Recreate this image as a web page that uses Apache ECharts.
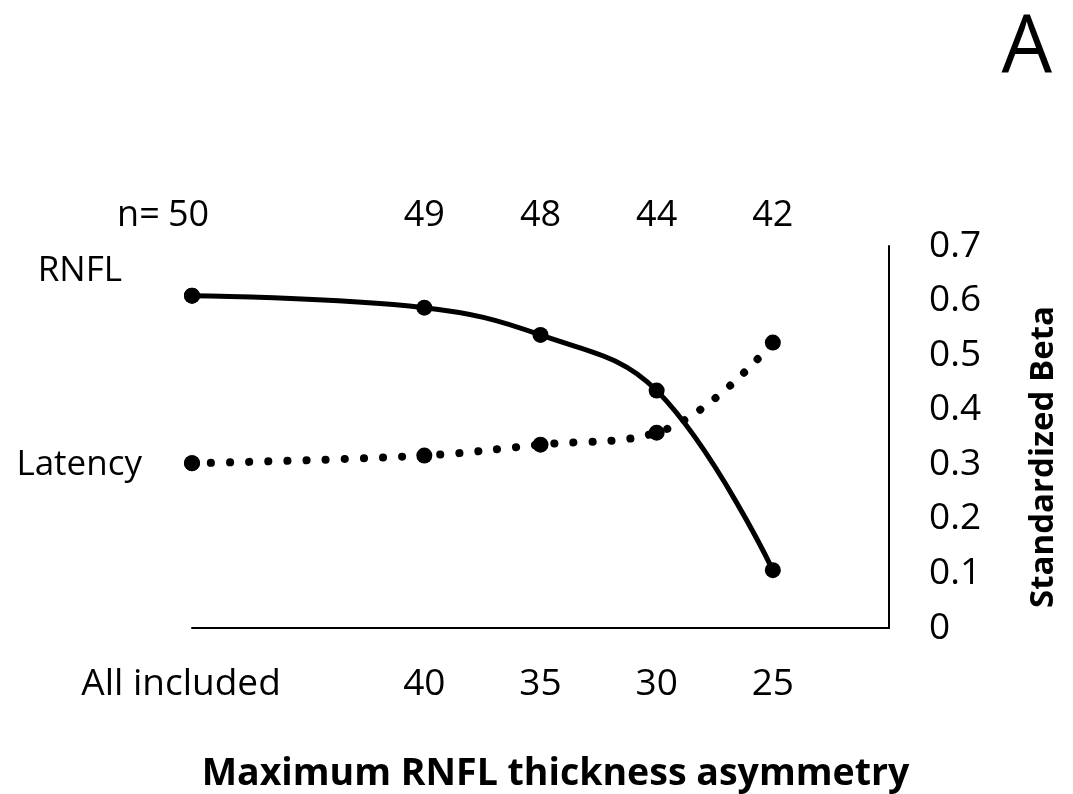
<!DOCTYPE html>
<html>
<head>
<meta charset="utf-8">
<script src="https://cdn.jsdelivr.net/npm/echarts@6/dist/echarts.min.js"></script>
<style>html,body{margin:0;padding:0;background:#fff}#c{width:1073px;height:794px}</style>
</head>
<body>
<div id="c"></div>
<script>
const xValues = [50, 40, 35, 30, 25];
const xLabels = ['All included', '40', '35', '30', '25'];
const nLabels = ['50', '49', '48', '44', '42'];
const rnfl = [0.609, 0.587, 0.537, 0.435, 0.106];
const latency = [0.302, 0.316, 0.336, 0.358, 0.523];
const seriesNames = ['RNFL', 'Latency'];
const xTitle = 'Maximum RNFL thickness asymmetry';
const yTitle = 'Standardized Beta';
const panelLabel = 'A';

const FONT = '"Open Sans", sans-serif';
const chart = echarts.init(document.getElementById('c'));

function xFmt(v) {
  const i = xValues.indexOf(v);
  if (i < 0) return '';
  return i === 0 ? '{a|' + xLabels[i] + '}' : xLabels[i];
}
function nFmt(v) {
  const i = xValues.indexOf(v);
  if (i < 0) return '';
  return i === 0 ? '{p|n=}{g|}{v|' + nLabels[i] + '}{t|}' : nLabels[i];
}

const labelStyle = { fontFamily: FONT, fontSize: 35, color: '#000' };

const option = {
  backgroundColor: '#fff',
  animation: false,
  title: {
    text: panelLabel, right: 16, top: 4,
    textStyle: { fontFamily: FONT, fontSize: 80, fontWeight: 'normal', color: '#000' }
  },
  grid: { left: 192, right: 184, top: 246, bottom: 166 },
  xAxis: [{
    type: 'value', min: 20, max: 50, interval: 5, inverse: true,
    axisLine: { show: true, lineStyle: { color: '#000', width: 2 } },
    axisTick: { show: false }, splitLine: { show: false },
    axisLabel: {
      formatter: xFmt, margin: 38, showMinLabel: true, showMaxLabel: true,
      fontFamily: FONT, fontSize: 37, color: '#000',
      rich: { a: { fontFamily: FONT, fontSize: 37, color: '#000', padding: [0, 22, 0, 0] } }
    },
    name: xTitle, nameLocation: 'middle', nameGap: 127,
    nameTextStyle: { fontFamily: FONT, fontSize: 37.5, fontWeight: 'bold', color: '#000', padding: [0, 0, 0, 30] }
  }, {
    type: 'value', min: 20, max: 50, interval: 5, inverse: true, position: 'top',
    axisLine: { show: false }, axisTick: { show: false }, splitLine: { show: false },
    axisLabel: {
      formatter: nFmt, margin: 12, showMinLabel: true, showMaxLabel: true,
      fontFamily: FONT, fontSize: 36, color: '#000',
      rich: {
        p: { fontFamily: FONT, fontSize: 36, color: '#000', width: 55, align: 'right' },
        g: { width: 2 },
        v: { fontFamily: FONT, fontSize: 36, color: '#000' },
        t: { width: 64 }
      }
    }
  }],
  yAxis: {
    type: 'value', position: 'right', min: 0, max: 0.7, interval: 0.1,
    axisLine: { show: true, lineStyle: { color: '#000', width: 2 } },
    axisTick: { show: false }, splitLine: { show: false },
    axisLabel: {
      formatter: v => v === 0 ? '0' : v.toFixed(1), margin: 40,
      fontFamily: FONT, fontSize: 37, color: '#000'
    },
    name: yTitle, nameLocation: 'middle', nameGap: 138, nameRotate: 90,
    nameTextStyle: { fontFamily: FONT, fontSize: 33, fontWeight: 'bold', color: '#000', padding: [0, 40, 0, 0] }
  },
  series: [{
    name: seriesNames[0], type: 'line', smooth: 0.4,
    data: xValues.map((x, i) => [x, rnfl[i]]),
    symbol: 'circle', symbolSize: 16,
    itemStyle: { color: '#000' },
    lineStyle: { color: '#000', width: 5 },
    label: { show: false },
    z: 3
  }, {
    name: seriesNames[1], type: 'line', smooth: 0.4,
    data: xValues.map((x, i) => [x, latency[i]]),
    symbol: 'circle', symbolSize: 16,
    itemStyle: { color: '#000' },
    lineStyle: { color: '#000', width: 8, type: [0.1, 19], cap: 'round' },
    label: { show: false },
    z: 2
  }, {
    name: 'labels', type: 'scatter', silent: true,
    data: [
      { value: [xValues[0], rnfl[0]], label: Object.assign({ show: true, formatter: seriesNames[0], position: 'left', distance: 62, offset: [0, -25] }, labelStyle) },
      { value: [xValues[0], latency[0]], label: Object.assign({ show: true, formatter: seriesNames[1], position: 'left', distance: 42, offset: [0, 2] }, labelStyle) }
    ],
    symbolSize: 16, itemStyle: { color: '#000', opacity: 1 },
    label: labelStyle
  }]
};
chart.setOption(option);
</script>
</body>
</html>
